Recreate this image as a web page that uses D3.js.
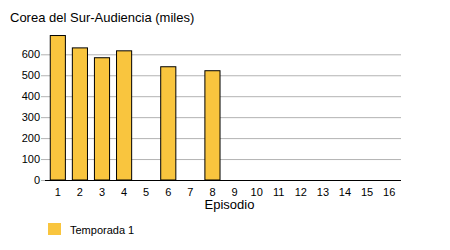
<!DOCTYPE html>
<html><head><meta charset="utf-8">
<script src="https://cdn.jsdelivr.net/npm/d3@7"></script>
<style>body{margin:0;background:#fff;} svg{display:block;font-family:"Liberation Sans",Arial,sans-serif;}</style>
</head><body>
<svg id="c" width="450" height="250"></svg>
<script>
const episodes = ["1","2","3","4","5","6","7","8","9","10","11","12","13","14","15","16"];
const values = [692, 633, 586, 619, null, 543, null, 524, null, null, null, null, null, null, null, null];
const yTicks = [0, 100, 200, 300, 400, 500, 600];
const title = "Corea del Sur-Audiencia (miles)";
const xLabel = "Episodio";
const seriesName = "Temporada 1";
const color = "#f9c53e";

const svg = d3.select("#c");
const pl = 46, pr = 401, pt = 30, pb = 180;
const x = d3.scaleBand().domain(episodes).range([pl, pr]).paddingInner(0.27).paddingOuter(0.17);
const y = d3.scaleLinear().domain([0, 716]).range([pb, pt]);

svg.append("text").attr("x", 10).attr("y", 22).attr("font-size", 13).attr("fill", "#000").text(title);

// grid
const yAxis = d3.axisLeft(y).tickValues(yTicks).tickSize(-(pr - pl)).tickPadding(6);
const gy = svg.append("g").attr("transform", `translate(${pl},0)`).call(yAxis);
gy.select(".domain").remove();
gy.selectAll(".tick line").attr("stroke", "#b3b3b3").attr("x1", -5);
gy.selectAll(".tick text").attr("font-size", 11).attr("fill", "#000").attr("font-family", "Liberation Sans, Arial, sans-serif");

// bars
svg.append("g").selectAll("rect")
  .data(episodes.map((e, i) => ({e, v: values[i]})).filter(d => d.v != null))
  .join("rect")
  .attr("x", d => x(d.e) + 0.5).attr("y", d => y(d.v) + 0.5)
  .attr("width", x.bandwidth() - 1).attr("height", d => y(0) - y(d.v) - 0.5)
  .attr("fill", color).attr("stroke", "#000").attr("stroke-width", 1);

// x axis
const xAxis = d3.axisBottom(x).tickSize(0).tickPadding(8);
const gx = svg.append("g").attr("transform", `translate(0,${pb})`).call(xAxis);
gx.select(".domain").remove();
gx.selectAll(".tick text").attr("font-size", 11).attr("fill", "#000").attr("font-family", "Liberation Sans, Arial, sans-serif");
svg.append("line").attr("x1", pl - 1).attr("x2", pr).attr("y1", pb + 0.5).attr("y2", pb + 0.5).attr("stroke", "#000").attr("stroke-width", 1.2);

svg.append("text").attr("x", (pl + pr) / 2 + 6).attr("y", 209).attr("text-anchor", "middle").attr("font-size", 13).text(xLabel);

// legend
svg.append("rect").attr("x", 48).attr("y", 223).attr("width", 13).attr("height", 12).attr("fill", color);
svg.append("text").attr("x", 70).attr("y", 234).attr("font-size", 11).text(seriesName);
</script>
</body></html>
